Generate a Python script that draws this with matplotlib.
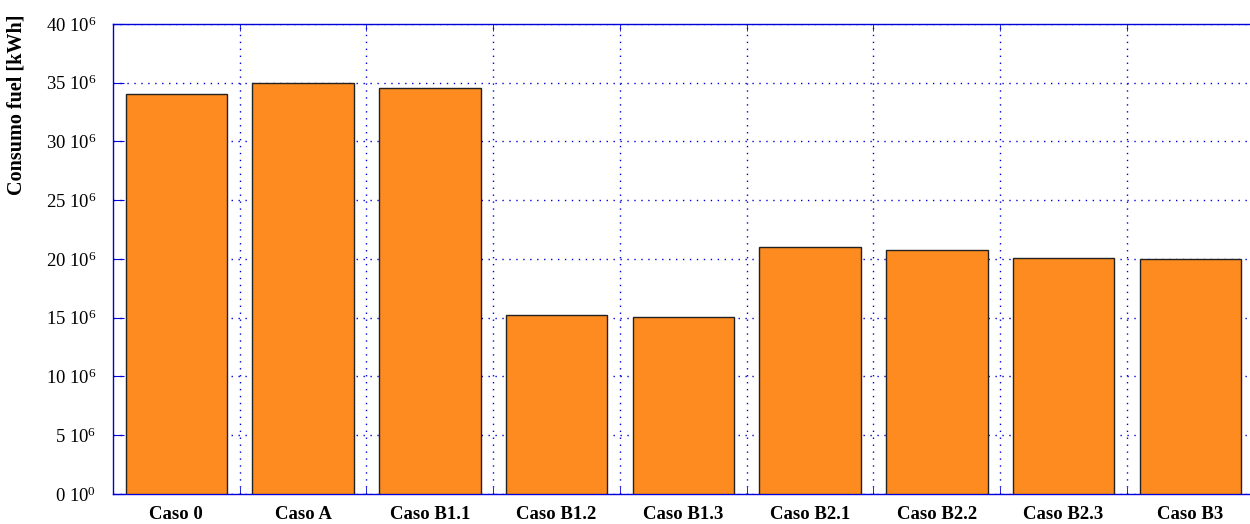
import matplotlib.pyplot as plt
import numpy as np

plt.rcParams['font.family'] = ['Liberation Serif', 'DejaVu Serif']
plt.rcParams['mathtext.fontset'] = 'custom'
plt.rcParams['mathtext.rm'] = 'Liberation Serif'

casos = ["Caso 0", "Caso A", "Caso B1.1", "Caso B1.2", "Caso B1.3",
         "Caso B2.1", "Caso B2.2", "Caso B2.3", "Caso B3"]
consumo_fuel = [34.0e6, 35.0e6, 34.55e6, 15.25e6, 15.1e6,
                21.05e6, 20.75e6, 20.05e6, 20.0e6]
yticks = [0, 5e6, 10e6, 15e6, 20e6, 25e6, 30e6, 35e6, 40e6]

bar_colour = "#fd8b1f"
axis_colour = "#0000dd"

fig = plt.figure(figsize=(12.5, 5.24), dpi=100)
ax = fig.add_axes([0.0904, 0.0573, 0.9126, 0.8969])

x = np.arange(len(casos))
ax.bar(x, consumo_fuel, width=0.8, color=bar_colour, edgecolor="#222222",
       linewidth=1.0, zorder=3)

ax.set_xlim(-0.5, len(casos) - 0.5)
ax.set_ylim(0, 40e6)

ax.set_xticks(x)
ax.set_xticklabels(casos, fontsize=13.5, fontweight="bold")
ax.set_xticks(x[:-1] + 0.5, minor=True)
ax.tick_params(axis="x", which="major", length=0, pad=9)
ax.tick_params(axis="x", which="minor", length=5, direction="in",
               color=axis_colour, top=True, bottom=True)

ax.set_yticks(yticks)
labels = []
for v in yticks:
    if v == 0:
        labels.append(r"0 $\mathregular{10^{0}}$")
    else:
        labels.append(r"%d $\mathregular{10^{6}}$" % round(v / 1e6))
ax.set_yticklabels(labels, fontsize=13.5)
ax.tick_params(axis="y", length=8, direction="in", color=axis_colour, pad=12)

ax.grid(True, which="minor", axis="x", color=axis_colour, linestyle=(0, (1, 4)),
        linewidth=1.0, zorder=0)
ax.grid(True, which="major", axis="y", color=axis_colour, linestyle=(0, (1, 4)),
        linewidth=1.0, zorder=0)
ax.set_axisbelow(True)

for side in ["left", "bottom", "top"]:
    ax.spines[side].set_color(axis_colour)
    ax.spines[side].set_linewidth(1.0)
ax.spines["right"].set_visible(False)

# axis title sits near the top of the y axis
fig.text(0.0135, 1 - 105 / 524, "Consumo fuel [kWh]", rotation=90,
         fontsize=14.5, fontweight="bold", ha="center", va="center")

fig.savefig("out.png", dpi=100)
